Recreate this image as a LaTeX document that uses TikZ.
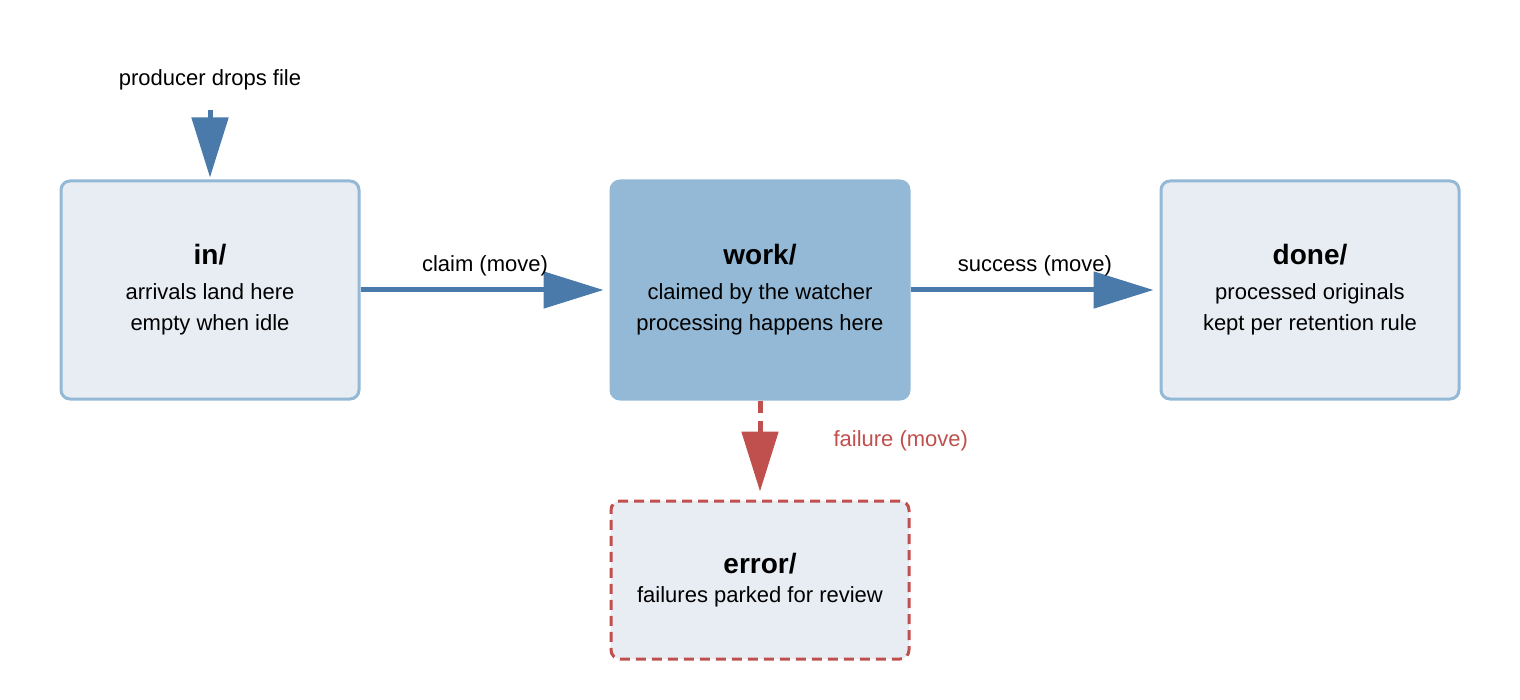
\documentclass[tikz,border=0pt]{standalone}
\usepackage{fontspec}
\setmainfont{Liberation Sans}
\usetikzlibrary{arrows.meta}
\definecolor{bfill}{HTML}{E8EDF4}
\definecolor{bdraw}{HTML}{93B9D6}
\definecolor{arr}{HTML}{4A7AAA}
\definecolor{red}{HTML}{C0504D}
\begin{document}
\begin{tikzpicture}[x=1pt,y=-1pt,
 box/.style={draw=bdraw,fill=bfill,line width=3pt,rounded corners=9pt,minimum width=298pt,minimum height=218pt,align=center,font=\fontsize{22}{37}\selectfont},
 flow/.style={arr,line width=5pt,-{Triangle[length=60pt,width=36pt]}},
 lbl/.style={font=\fontsize{22}{26}\selectfont}]
\path[use as bounding box] (0,0) rectangle (1520,700);
\node[box] (in) at (210,290) {\fontsize{28}{34}\selectfont\bfseries in/\\[-2pt] arrivals land here\\[-6pt] empty when idle};
\node[box,fill=bdraw] (work) at (760,290) {\fontsize{28}{34}\selectfont\bfseries work/\\[-2pt] claimed by the watcher\\[-6pt] processing happens here};
\node[box] (done) at (1310,290) {\fontsize{28}{34}\selectfont\bfseries done/\\[-2pt] processed originals\\[-6pt] kept per retention rule};
\node[box,draw=red,dashed,dash pattern=on 10pt off 6pt,minimum height=158pt] (err) at (760,580) {\fontsize{28}{34}\selectfont\bfseries error/\\[-8pt] failures parked for review};
\node[lbl] (prod) at (210,80) {producer drops file};
\coordinate (ptop) at (210,110);
\draw[flow,shorten >=2pt] (ptop) -- (in.north);
\draw[flow,shorten >=6pt] (in.east) -- (work.west) node[midway,above=8pt,lbl,black]{claim (move)};
\draw[flow,shorten >=6pt] (work.east) -- (done.west) node[midway,above=8pt,lbl,black]{success (move)};
\draw[red,line width=5pt,dash pattern=on 12pt off 8pt,-{Triangle[length=60pt,width=36pt]},shorten >=8pt] (work.south) -- (err.north);
\node[lbl,red,anchor=west] (fl) at (830,441) {failure (move)};
\end{tikzpicture}
\end{document}
